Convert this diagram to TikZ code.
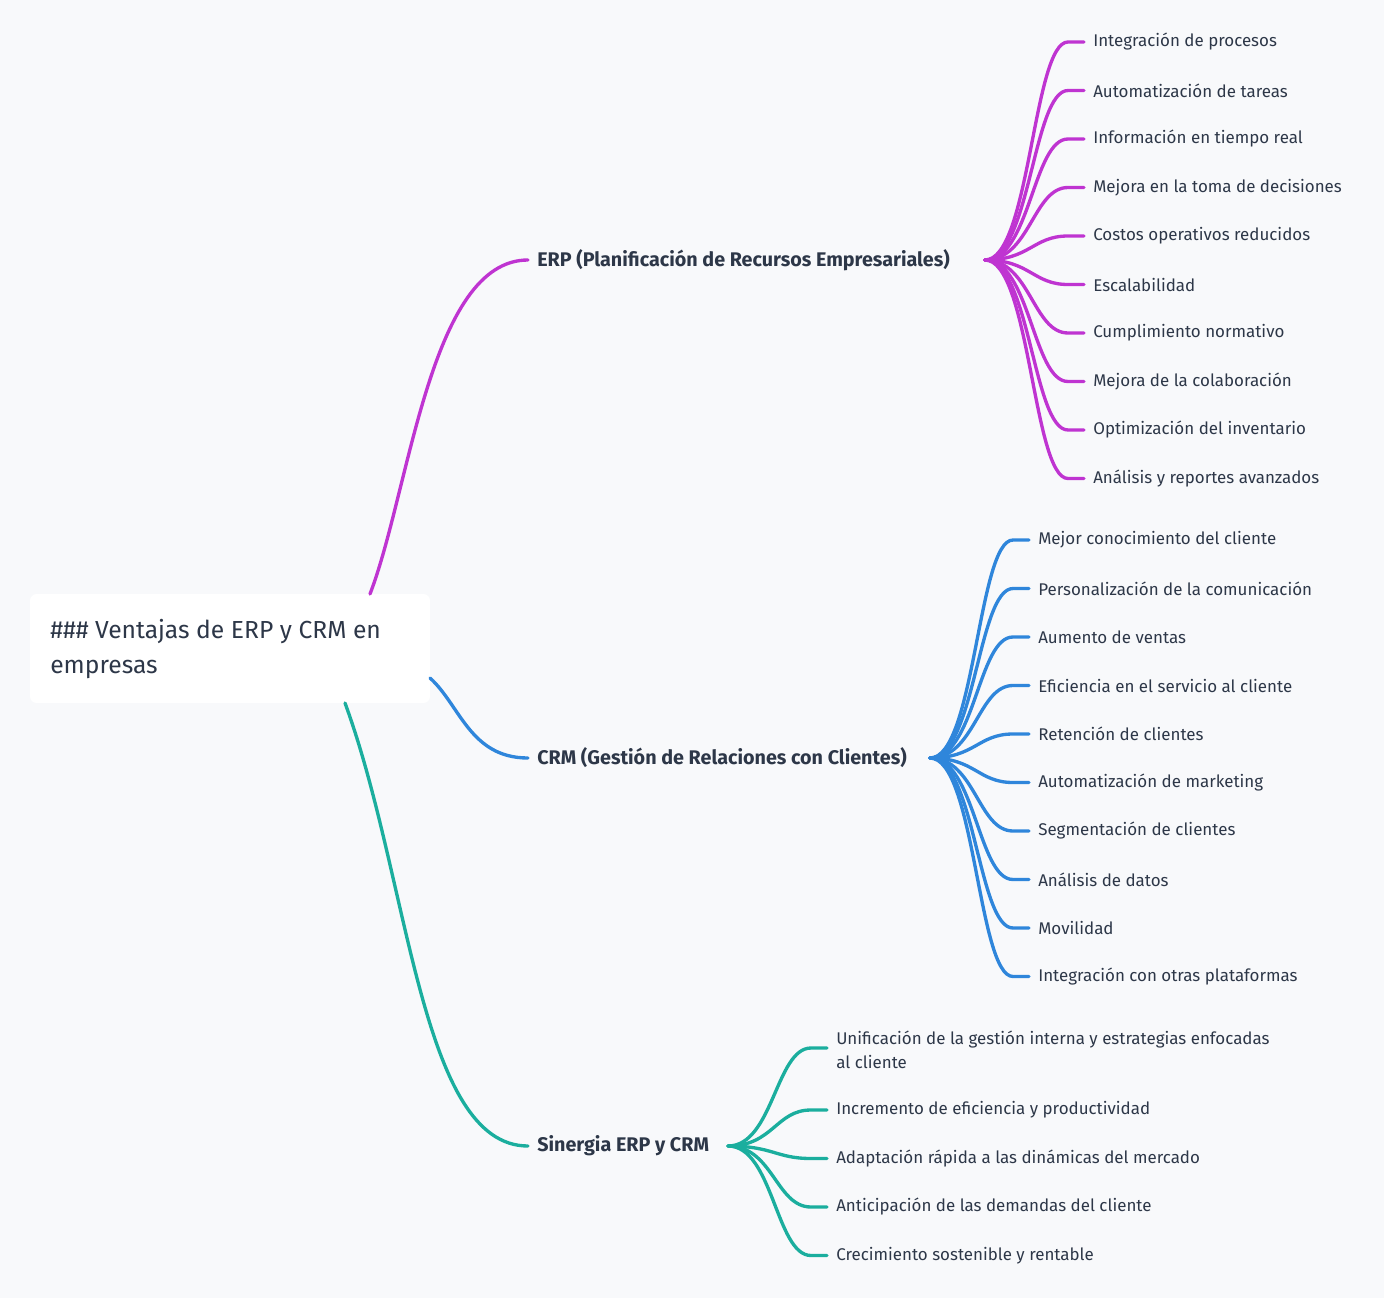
\documentclass[tikz,border=0pt]{standalone}
\usepackage{fontspec}
\setmainfont{Fira Sans}
\usetikzlibrary{calc}
\definecolor{bg}{HTML}{F8F9FB}
\definecolor{ink}{HTML}{2D3748}
\definecolor{erpc}{HTML}{BF34D1}
\definecolor{crmc}{HTML}{2F86DB}
\definecolor{sinc}{HTML}{1BAE9E}
\tikzset{
  branch/.style={font=\fontsize{14.8}{16}\selectfont\bfseries, text=ink, anchor=west, inner sep=0pt},
  leaf/.style={font=\fontsize{12.7}{18}\selectfont, text=ink, anchor=west, inner sep=0pt, align=left},
  link/.style={line width=2.5pt, line cap=round},
}
\begin{document}
\begin{tikzpicture}[x=0.75pt,y=-0.75pt]
\useasboundingbox[fill=bg] (0,0) rectangle (1384,1298);
% root
\node (root) [fill=white, rounded corners=5pt, minimum width=400*0.75pt, minimum height=109*0.75pt, inner sep=0pt] at (230,648.5) {};
\node [font=\fontsize{18.5}{26}\selectfont, text=ink, anchor=west, align=left, inner sep=0pt] at (50,649) {\#\#\# Ventajas de ERP y CRM en\\empresas};
% branches
\node (erp) [branch] at (537,260) {ERP (Planificación de Recursos Empresariales)};
\node (crm) [branch] at (537,758) {CRM (Gestión de Relaciones con Clientes)};
\node (sin) [branch] at (537,1146) {Sinergia ERP y CRM};
\coordinate (r1) at (370,594);
\coordinate (r2) at (430,678);
\coordinate (r3) at (345,703);
\draw[link, erpc] (r1) .. controls (410,490) and (430,260) .. ($(erp.west)+(-9,0)$);
\draw[link, crmc] (r2) .. controls (460,705) and (470,758) .. ($(crm.west)+(-9,0)$);
\draw[link, sinc] (r3) .. controls (410,880) and (420,1146) .. ($(sin.west)+(-9,0)$);
% ERP leaves
\coordinate (erpo) at (985,260);
\foreach \t [count=\i] in {Integración de procesos, Automatización de tareas, Información en tiempo real, Mejora en la toma de decisiones, Costos operativos reducidos, Escalabilidad, Cumplimiento normativo, Mejora de la colaboración, Optimización del inventario, Análisis y reportes avanzados}{
  \node (e\i) [leaf] at (1093,{42+48.5*(\i-1)}) {\t};
  \draw[link, erpc] (erpo) .. controls ($(erpo)+(45,0)$) and ($(e\i.west)+(-60,0)$) .. ($(e\i.west)+(-25,0)$) -- ($(e\i.west)+(-9,0)$);
}
% CRM leaves
\coordinate (crmo) at (930,758);
\foreach \t [count=\i] in {Mejor conocimiento del cliente, Personalización de la comunicación, Aumento de ventas, Eficiencia en el servicio al cliente, Retención de clientes, Automatización de marketing, Segmentación de clientes, Análisis de datos, Movilidad, Integración con otras plataformas}{
  \node (c\i) [leaf] at (1038,{540+48.5*(\i-1)}) {\t};
  \draw[link, crmc] (crmo) .. controls ($(crmo)+(45,0)$) and ($(c\i.west)+(-60,0)$) .. ($(c\i.west)+(-25,0)$) -- ($(c\i.west)+(-9,0)$);
}
% Sinergia leaves
\coordinate (sino) at (728,1146);
\node (s1) [leaf] at (836,1050) {Unificación de la gestión interna y estrategias enfocadas\\al cliente};
\coordinate (s1a) at (836,1048);
\draw[link, sinc] (sino) .. controls ($(sino)+(45,0)$) and ($(s1a)+(-60,0)$) .. ($(s1a)+(-25,0)$) -- ($(s1a)+(-9,0)$);
\foreach \t [count=\i from 2] in {Incremento de eficiencia y productividad, Adaptación rápida a las dinámicas del mercado, Anticipación de las demandas del cliente, Crecimiento sostenible y rentable}{
  \node (s\i) [leaf] at (836,{1110+48.5*(\i-2)}) {\t};
  \draw[link, sinc] (sino) .. controls ($(sino)+(45,0)$) and ($(s\i.west)+(-60,0)$) .. ($(s\i.west)+(-25,0)$) -- ($(s\i.west)+(-9,0)$);
}
\end{tikzpicture}
\end{document}
